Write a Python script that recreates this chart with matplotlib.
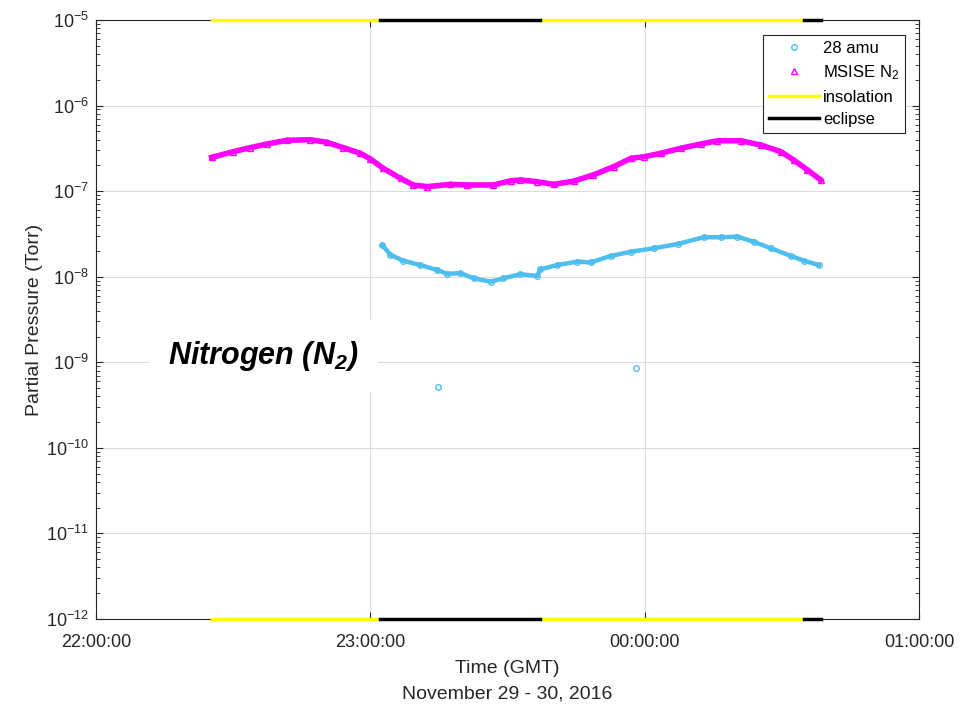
import matplotlib
matplotlib.use("Agg")
import matplotlib.pyplot as plt
from matplotlib.ticker import FixedLocator, LogLocator, NullFormatter

plt.rcParams['font.family'] = ['Liberation Sans', 'DejaVu Sans']
plt.rcParams['mathtext.fontset'] = 'custom'
plt.rcParams['mathtext.rm'] = 'Liberation Sans'
plt.rcParams['mathtext.it'] = 'Liberation Sans:italic'
plt.rcParams['mathtext.bf'] = 'Liberation Sans:bold:italic'
plt.rcParams['axes.unicode_minus'] = False

# time in minutes after 22:00:00 GMT, pressure in Torr
msise_t = [25.3, 30.0, 33.7, 37.4, 41.8, 46.9, 50.5, 54.1, 57.8, 60.0, 62.8, 66.6,
           69.4, 72.4, 77.5, 81.2, 86.9, 90.7, 92.8, 96.5, 100.1, 104.5, 108.8,
           113.2, 117.0, 119.8, 123.5, 127.9, 132.3, 135.9, 141.0, 145.4, 149.8,
           152.6, 155.6, 158.5]
msise_p = [2.48e-7, 2.89e-7, 3.22e-7, 3.56e-7, 3.93e-7, 3.99e-7, 3.72e-7, 3.22e-7,
           2.77e-7, 2.38e-7, 1.85e-7, 1.41e-7, 1.18e-7, 1.13e-7, 1.20e-7, 1.18e-7,
           1.18e-7, 1.32e-7, 1.35e-7, 1.29e-7, 1.20e-7, 1.31e-7, 1.55e-7, 1.93e-7,
           2.42e-7, 2.52e-7, 2.77e-7, 3.17e-7, 3.56e-7, 3.88e-7, 3.88e-7, 3.46e-7,
           2.89e-7, 2.31e-7, 1.77e-7, 1.35e-7]

amu28_t = [62.6, 64.4, 67.2, 70.9, 74.6, 76.8, 79.7, 82.6, 86.3, 89.1, 92.8, 96.5,
           97.2, 100.9, 105.3, 108.2, 112.6, 117.0, 122.0, 127.2, 132.9, 136.6,
           140.3, 143.9, 147.6, 152.0, 154.8, 158.1]
amu28_p = [2.35e-8, 1.80e-8, 1.54e-8, 1.37e-8, 1.20e-8, 1.08e-8, 1.10e-8, 9.58e-9,
           8.75e-9, 9.58e-9, 1.07e-8, 1.02e-8, 1.22e-8, 1.37e-8, 1.50e-8, 1.47e-8,
           1.75e-8, 1.96e-8, 2.15e-8, 2.41e-8, 2.89e-8, 2.89e-8, 2.94e-8, 2.56e-8,
           2.15e-8, 1.75e-8, 1.54e-8, 1.37e-8]
outlier_t = [74.9, 118.0]
outlier_p = [5.1e-10, 8.5e-10]

# orbit lighting segments (start, end) in minutes
insolation = [(25.4, 62.2), (97.2, 154.8)]
eclipse = [(62.2, 97.2), (154.8, 158.5)]

xticks = [0, 60, 120, 180]
xticklabels = ['22:00:00', '23:00:00', '00:00:00', '01:00:00']

cyan = '#4DBEEE'
magenta = '#FF00FF'
dark = '#262626'

fig = plt.figure(figsize=(9.61, 7.07), dpi=100)
ax = fig.add_axes([0.0999, 0.1245, 0.8564, 0.8472])
ax.set_yscale('log')
ax.set_xlim(0, 180)
ax.set_ylim(1e-12, 1e-5)

ax.plot(amu28_t, amu28_p, '-', color=cyan, lw=3.2, zorder=3)
ax.plot(amu28_t + outlier_t, amu28_p + outlier_p, 'o', ls='none', mfc='none',
        mec=cyan, ms=4, mew=1, label='28 amu', zorder=3)
ax.plot(msise_t, msise_p, '-', color=magenta, lw=4, zorder=3)
ax.plot(msise_t, msise_p, '^', ls='none', mfc='none', mec=magenta, ms=4,
        mew=1, label='MSISE N$_2$', zorder=3)

for y in [1e-5, 1e-12]:
    for i, (a, b) in enumerate(insolation):
        ax.plot([a, b], [y, y], color='#FFFF00', lw=2.5, clip_on=False, zorder=4,
                label='insolation' if (i == 0 and y == 1e-5) else None)
    for i, (a, b) in enumerate(eclipse):
        ax.plot([a, b], [y, y], color='black', lw=2.5, clip_on=False, zorder=4,
                label='eclipse' if (i == 0 and y == 1e-5) else None)

ax.xaxis.set_major_locator(FixedLocator(xticks))
ax.set_xticklabels(xticklabels)
ax.yaxis.set_major_locator(LogLocator(base=10, numticks=20))
ax.yaxis.set_minor_locator(LogLocator(base=10, subs=range(2, 10), numticks=20))
ax.yaxis.set_minor_formatter(NullFormatter())
ax.tick_params(which='both', direction='in', top=True, right=True,
               colors=dark, labelsize=13)
ax.tick_params(axis='x', pad=11)
ax.tick_params(axis='y', pad=5)
ax.tick_params(which='major', length=5)
ax.tick_params(which='minor', length=3)
ax.grid(True, which='major', color='#dcdcdc', lw=0.8)
for s in ax.spines.values():
    s.set_color(dark)
    s.set_linewidth(0.8)

ax.set_xlabel('Time (GMT)\nNovember 29 - 30, 2016', fontsize=14, color=dark,
              labelpad=6, linespacing=1.7)
ax.set_ylabel('Partial Pressure (Torr)', fontsize=14, color=dark, labelpad=2)

ax.text(36.6, 1.2e-9, r'$\mathbf{Nitrogen\ (N_2)}$', fontsize=22, ha='center',
        va='center', zorder=5,
        bbox=dict(facecolor='white', edgecolor='none', pad=14))

leg = ax.legend(loc='upper right', bbox_to_anchor=(0.9835, 0.975), fontsize=12,
                fancybox=False, edgecolor=dark, framealpha=1,
                handlelength=3.0, borderpad=0.35, labelspacing=0.45,
                handletextpad=0.25, borderaxespad=0)
leg.get_frame().set_linewidth(0.8)

fig.savefig('out.png', dpi=100)
